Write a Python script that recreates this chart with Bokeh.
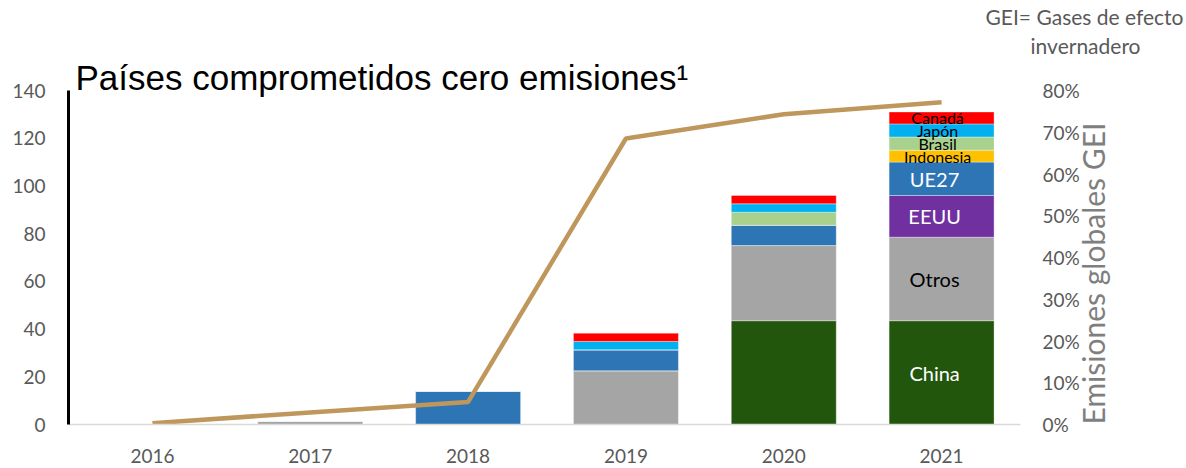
from bokeh.plotting import figure
from bokeh.models import Range1d, LinearAxis, FixedTicker, Label, ColumnDataSource, PrintfTickFormatter, Title
from bokeh.embed import file_html
from bokeh.resources import INLINE
import math

# ---- data ----
years = ["2016", "2017", "2018", "2019", "2020", "2021"]
china = [0, 0, 0, 0, 43.5, 43.5]
otros = [0, 1.5, 0, 22.5, 31.5, 35]
eeuu = [0, 0, 0, 0, 0, 17.5]
ue27 = [0, 0, 14, 8.8, 8.5, 14]
indonesia = [0, 0, 0, 0, 0, 5]
brasil = [0, 0, 0, 0, 5.5, 5.5]
japon = [0, 0, 0, 3.5, 3.5, 5.5]
canada = [0, 0, 0, 3.5, 3.5, 5]
pct_gei = [0.3, 2.9, 5.4, 68.5, 74.3, 77.2]

series_keys = ["china", "otros", "eeuu", "ue27", "indonesia", "brasil", "japon", "canada"]
series_names = ["China", "Otros", "EEUU", "UE27", "Indonesia", "Brasil", "Japón", "Canadá"]
series_colors = ["#21560C", "#A5A5A5", "#7030A0", "#2E75B6", "#FFC000", "#A9D18E", "#00B0F0", "#FF0000"]
label_colors = ["white", "black", "white", "white", "black", "black", "black", "black"]
label_sizes = ["20px", "20px", "20px", "20px", "16px", "16px", "16px", "16px"]

left_ticks = [0, 20, 40, 60, 80, 100, 120, 140]
right_ticks = [0, 10, 20, 30, 40, 50, 60, 70, 80]

title_text = "Países comprometidos cero emisiones¹"
right_title = "Emisiones globales GEI"
note_lines = ["GEI= Gases de efecto", "invernadero"]

# ---- layout ----
W, H = 1186, 468
FL, FR, FT, FB = 68, 1020, 90, 424
X0, X1 = -0.532, 5.5
Y0, Y1 = 0, 140

xs = list(range(len(years)))
data = dict(x=xs, china=china, otros=otros, eeuu=eeuu, ue27=ue27, indonesia=indonesia,
            brasil=brasil, japon=japon, canada=canada, pct=pct_gei)
src = ColumnDataSource(data)

FONT = "Lato"
gray = "#595959"

p = figure(width=W, height=H, output_backend="svg", toolbar_location=None,
           x_range=Range1d(X0, X1), y_range=Range1d(Y0, Y1),
           min_border_left=FL, min_border_right=W - FR, min_border_top=FT, min_border_bottom=H - FB)
p.extra_y_ranges = {"pct": Range1d(0, 80)}
p.xgrid.visible = False
p.ygrid.visible = False
p.outline_line_color = None
p.background_fill_color = "white"
p.border_fill_color = "white"

p.vbar_stack(series_keys, x="x", width=0.665, source=src, color=series_colors,
             line_color="white", line_alpha=0.35, line_width=1)

p.line(x="x", y="pct", source=src, y_range_name="pct", line_color="#BF975D", line_width=4.5)

# left axis
ya = p.yaxis[0]
ya.ticker = FixedTicker(ticks=left_ticks)
ya.axis_line_color = "black"
ya.axis_line_width = 3
ya.major_tick_line_color = None
ya.minor_tick_line_color = None
ya.major_tick_out = 0
ya.major_tick_in = 0
ya.major_label_standoff = 23
ya.major_label_text_font = FONT
ya.major_label_text_font_size = "19px"
ya.major_label_text_color = gray

# bottom axis
xa = p.xaxis[0]
xa.ticker = FixedTicker(ticks=xs)
xa.major_label_overrides = {i: y for i, y in zip(xs, years)}
xa.axis_line_color = "#D9D9D9"
xa.axis_line_width = 1.5
xa.major_tick_line_color = None
xa.minor_tick_line_color = None
xa.major_tick_out = 0
xa.major_tick_in = 0
xa.major_label_standoff = 24
xa.major_label_text_font = FONT
xa.major_label_text_font_size = "19px"
xa.major_label_text_color = gray

# right axis
ra = LinearAxis(y_range_name="pct", ticker=FixedTicker(ticks=right_ticks),
                formatter=PrintfTickFormatter(format="%d%%"))
ra.axis_line_color = None
ra.major_tick_line_color = None
ra.minor_tick_line_color = None
ra.major_tick_out = 0
ra.major_tick_in = 0
ra.major_label_standoff = 22
ra.major_label_text_font = FONT
ra.major_label_text_font_size = "19px"
ra.major_label_text_color = gray
ra.axis_label = right_title
ra.axis_label_standoff = 10
ra.axis_label_text_font = FONT
ra.axis_label_text_font_size = "30px"
ra.axis_label_text_font_style = "normal"
ra.axis_label_text_color = "#7F7F7F"
props = LinearAxis.properties()
if "axis_label_orientation" in props:
    ra.axis_label_orientation = math.pi / 2
if "axis_label_align" in props:
    ra.axis_label_align = "start"
p.add_layout(ra, "right")

# segment labels on the last bar
last = len(years) - 1
base = 0.0
for key, name, col, size in zip(series_keys, series_names, label_colors, label_sizes):
    v = data[key][last]
    mid = base + v / 2
    base += v
    p.add_layout(Label(x=xs[last], y=mid, text=name, text_align="center", text_baseline="middle",
                       x_offset=-7 if size == "20px" else -4,
                       text_font=FONT, text_font_size=size, text_color=col))

# titles: the plot title is outermost; added titles stack from the frame outward
p.title = Title(text=note_lines[0], align="right", offset=-163, standoff=-2,
                text_font=FONT, text_font_size="21px", text_font_style="normal", text_color=gray)
p.add_layout(Title(text=title_text, align="left", offset=7, standoff=-12,
                   text_font="Liberation Sans", text_font_size="35px", text_font_style="normal",
                   text_color="black"), "above")
p.add_layout(Title(text=note_lines[1], align="right", offset=-120, standoff=7,
                   text_font=FONT, text_font_size="21px", text_font_style="normal",
                   text_color=gray), "above")

open("out.html", "w").write(file_html(p, INLINE))
